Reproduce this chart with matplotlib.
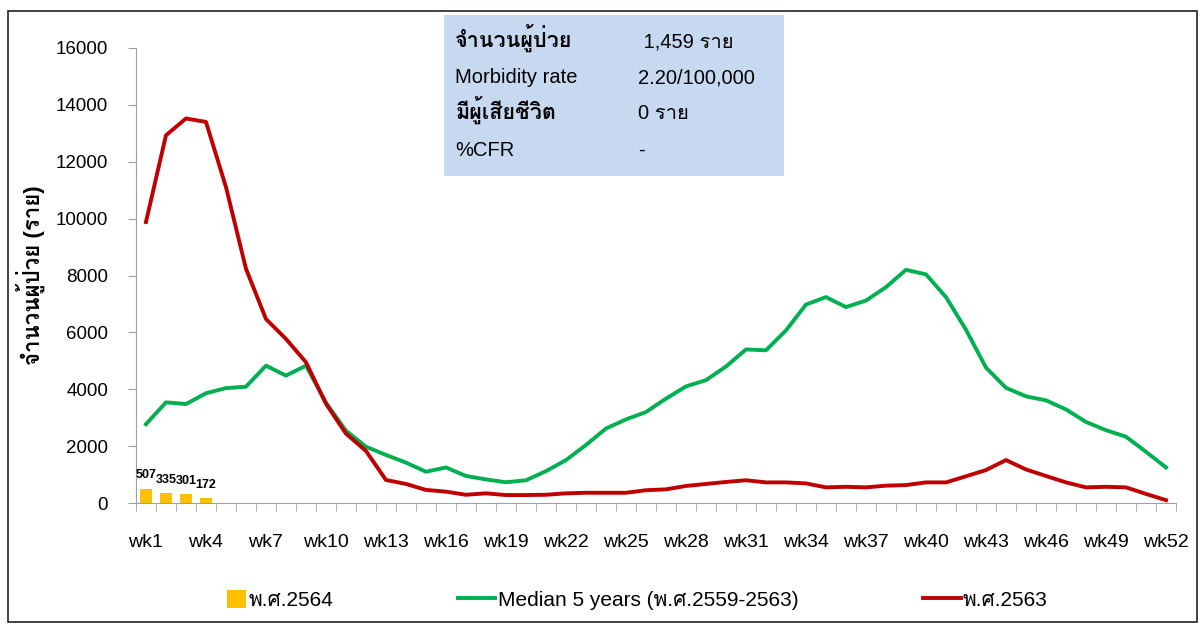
import numpy as np
import matplotlib
matplotlib.use('Agg')
import matplotlib.pyplot as plt
from matplotlib import font_manager
from matplotlib.ft2font import FT2Font
from matplotlib.patches import Rectangle
from matplotlib.legend_handler import HandlerPatch

# find a font that can draw Thai
thai_font = None
for f in font_manager.fontManager.ttflist:
    try:
        if FT2Font(f.fname).get_char_index(ord('จ')):
            thai_font = f.name
            break
    except Exception:
        pass
fams = ['Liberation Sans']
if thai_font:
    fams.append(thai_font)
fams.append('DejaVu Sans')
plt.rcParams['font.family'] = fams

weeks = ['wk%d' % i for i in range(1, 53)]
cases_2564 = [507, 335, 301, 172]
median_5y = [2770, 3540, 3480, 3860, 4040, 4090, 4830, 4480, 4830, 3530,
             2540, 1980, 1690, 1420, 1100, 1250, 950, 830, 730, 800,
             1120, 1510, 2040, 2620, 2940, 3200, 3670, 4100, 4320, 4800,
             5400, 5370, 6070, 6980, 7240, 6890, 7120, 7590, 8200, 8040,
             7240, 6090, 4760, 4050, 3750, 3610, 3290, 2850, 2560, 2330,
             1800, 1250]
cases_2563 = [9880, 12930, 13520, 13400, 11110, 8240, 6470, 5770, 4950, 3490,
              2440, 1830, 810, 670, 460, 400, 290, 340, 280, 280,
              290, 340, 360, 360, 360, 450, 480, 600, 670, 740,
              800, 725, 725, 690, 550, 570, 550, 610, 630, 725,
              725, 940, 1160, 1510, 1180, 950, 725, 550, 570, 550,
              320, 100]
labels = ['พ.ศ.2564', 'Median 5 years (พ.ศ.2559-2563)', 'พ.ศ.2563']

x = np.arange(1, 53)

fig = plt.figure(figsize=(12.01, 6.29), dpi=100)
ax = fig.add_axes([0.1132, 0.2003, 0.866, 0.7234])

b = ax.bar(x[:len(cases_2564)], cases_2564, width=0.6, color='#FFC000', zorder=2)
for xi, v in zip(x, cases_2564):
    ax.text(xi, v + 250, str(v), ha='center', va='bottom', fontsize=9, fontweight='bold')
l1, = ax.plot(x, median_5y, color='#00B050', lw=2.8, zorder=3)
l2, = ax.plot(x, cases_2563, color='#C00000', lw=2.8, zorder=4)

ax.set_xlim(0.5, 52.5)
ax.set_ylim(0, 16000)
ax.set_yticks(np.arange(0, 16001, 2000))
ax.tick_params(axis='y', labelsize=13.5, length=6, color='#A0A0A0', pad=14)

ax.set_xticks(x[::3])
ax.set_xticklabels(weeks[::3])
ax.set_xticks(np.arange(0.5, 53, 1), minor=True)
ax.tick_params(axis='x', which='major', length=0, labelsize=14, pad=22)
ax.tick_params(axis='x', which='minor', length=6, color='#A0A0A0')

for s in ['top', 'right']:
    ax.spines[s].set_visible(False)
for s in ['left', 'bottom']:
    ax.spines[s].set_color('#A0A0A0')

ax.set_ylabel('จำนวนผู้ป่วย (ราย)', fontsize=16, fontweight='bold', labelpad=8)


def square(legend, orig_handle, xdescent, ydescent, width, height, fontsize):
    return Rectangle((width - height - xdescent, -ydescent), height, height)


bar_handle = b[0]
fig.legend([bar_handle, l1, l2], labels, loc='center left', bbox_to_anchor=(0.158, 0.046), ncol=3,
           frameon=False, fontsize=15, handlelength=1.8, handleheight=1.0, handletextpad=0.1,
           columnspacing=6.0, handler_map={bar_handle: HandlerPatch(patch_func=square)})

# info box
fig.patches.append(Rectangle((0.3697, 0.7202), 0.2831, 0.256, transform=fig.transFigure,
                             facecolor='#C6D9F1', edgecolor='none', zorder=5))
rows = [('จำนวนผู้ป่วย', ' 1,459 ราย', True),
        ('Morbidity rate', '2.20/100,000', False),
        ('มีผู้เสียชีวิต', '0 ราย', True),
        ('%CFR', '-', False)]
baselines = [47, 83, 119, 156]
for (lab, val, bold), yb in zip(rows, baselines):
    yy = 1 - yb / 629
    if bold:
        fig.text(0.3789, yy, lab, fontsize=15.5, fontweight='bold', va='baseline', zorder=6)
    else:
        fig.text(0.3789, yy, lab, fontsize=14.5, va='baseline', zorder=6)
    fig.text(0.531, yy, val, fontsize=14.5, va='baseline', zorder=6)

# outer frame
fig.patches.append(Rectangle((8 / 1201, 1 - 622 / 629), 1189 / 1201, 611 / 629, transform=fig.transFigure,
                             facecolor='none', edgecolor='#222222', lw=1.2))

fig.savefig('out.png', dpi=100)
